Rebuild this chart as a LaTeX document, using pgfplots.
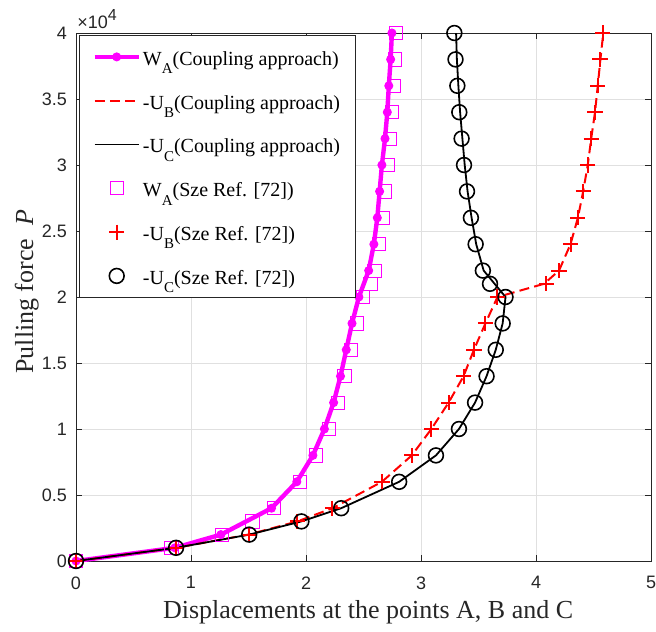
\documentclass[border=0pt]{standalone}
\usepackage{fontspec}
\setmainfont{Liberation Serif}
\setsansfont{Liberation Sans}
\usepackage{pgfplots}
\pgfplotsset{compat=1.18}
\usetikzlibrary{calc}
\definecolor{axgray}{rgb}{0.15,0.15,0.15}
\definecolor{gridgray}{rgb}{0.88,0.88,0.88}
\definecolor{mag}{rgb}{1,0,1}
\definecolor{myred}{rgb}{1,0,0}
\newcommand{\sub}[1]{\raisebox{-4.2pt}{\fontsize{7.5}{8}\selectfont #1}}
\begin{document}
\begin{tikzpicture}
\begin{axis}[
  scale only axis, width=287.5pt, height=264pt,
  xmin=0, xmax=5, ymin=0, ymax=40000,
  xtick={0,1,2,3,4,5},
  ytick={0,5000,10000,15000,20000,25000,30000,35000,40000},
  scaled y ticks=base 10:-4,
  ytick scale label code/.code={\sffamily\fontsize{9}{10}\selectfont\textcolor{axgray}{×10\raisebox{3.8pt}{\fontsize{8}{8}\selectfont 4}}},
  every y tick scale label/.style={at={(rel axis cs:0,1)}, anchor=base west, inner sep=0pt, xshift=1.5pt, yshift=2.5pt},
  /pgf/number format/assume math mode=true,
  yticklabel style={/pgf/number format/fixed, /pgf/number format/precision=1, xshift=-1pt},
  xticklabel style={yshift=-4.2pt},
  tick label style={font=\sffamily\fontsize{9}{10}\selectfont, text=axgray},
  axis line style={axgray, line width=0.5pt},
  tick style={axgray, line width=0.5pt},
  tick align=inside, major tick length=2.8pt,
  grid=major, major grid style={gridgray, line width=0.5pt},
  xlabel={Displacements at the points A, B and C},
  ylabel={Pulling force \ \textit{P}},
  label style={font=\fontsize{13}{15}\selectfont, text=axgray},
  xlabel style={at={(rel axis cs:0.508,-0.1098)}, anchor=base, inner sep=0pt},
  ylabel style={at={(rel axis cs:-0.0643,0.51)}, anchor=south, inner sep=0pt},
  legend image code/.code={\draw[mark repeat=2,mark phase=2,#1] plot coordinates {(0pt,0pt) (11pt,0pt) (22pt,0pt)};},
  legend cell align=left,
  legend style={at={(rel axis cs:0,1)}, anchor=north west, xshift=1.5pt, yshift=-1pt,
    draw=axgray, line width=0.5pt, fill=white, font=\fontsize{10}{12}\selectfont,
    inner xsep=6.5pt, inner ysep=5.1pt, row sep=10.7pt,
    nodes={inner xsep=1pt, inner ysep=0pt, text height=9.75pt, text depth=1.45pt, text=black}},
]
% W_A coupling
\addplot[mag, line width=2.2pt, mark=*, mark size=2pt, mark options={solid, fill=mag, line width=0.5pt}] table {
x y
0 0
0.86 1000
1.26 2000
1.70 4000
1.92 6000
2.06 8000
2.16 10000
2.24 12000
2.30 14000
2.35 16000
2.40 18000
2.46 20000
2.545 22000
2.59 24000
2.62 26000
2.64 28000
2.66 30000
2.687 32000
2.707 34000
2.72 36000
2.736 38000
2.747 40000
};
\addlegendentry{W\sub{A}(Coupling approach)}
% -U_B coupling
\addplot[myred, line width=1pt, dash pattern=on 5pt off 2.6pt] table {
x y
0 0
0.87 1000
1.50 2000
1.925 3000
2.23 4000
2.66 6000
2.92 8000
3.09 10000
3.24 12000
3.37 14000
3.46 16000
3.56 18000
3.665 20000
4.07 21000
4.20 22000
4.30 24000
4.364 26000
4.41 28000
4.45 30000
4.48 32000
4.513 34000
4.537 36000
4.56 38000
4.585 40000
};
\addlegendentry{-U\sub{B}(Coupling approach)}
% -U_C coupling
\addplot[black, line width=0.9pt] table {
x y
0 0
0.87 1000
1.506 2000
1.96 3000
2.306 4000
2.81 6000
3.13 8000
3.33 10000
3.47 12000
3.57 14000
3.65 16000
3.71 18000
3.735 20000
3.545 22000
3.48 24000
3.44 26000
3.405 28000
3.38 30000
3.36 32000
3.34 34000
3.325 36000
3.312 38000
3.305 40000
};
\addlegendentry{-U\sub{C}(Coupling approach)}
% W_A Sze
\addplot[only marks, mag, mark=square, mark size=3.3pt, mark options={line width=0.5pt}] table {
x y
0 0
0.83 1000
1.27 2000
1.535 3000
1.72 4000
1.95 6000
2.09 8000
2.20 10000
2.277 12000
2.335 14000
2.39 16000
2.44 18000
2.496 20000
2.56 21000
2.595 22000
2.638 24000
2.667 26000
2.69 28000
2.71 30000
2.727 32000
2.747 34000
2.765 36000
2.776 38000
2.785 40000
};
\addlegendentry{W\sub{A}(Sze Ref. [72])}
% -U_B Sze
\addplot[only marks, myred, mark=+, mark size=3.8pt, mark options={line width=1pt}] table {
x y
0 0
0.87 1000
1.50 2000
1.925 3000
2.23 4000
2.66 6000
2.92 8000
3.09 10000
3.24 12000
3.37 14000
3.46 16000
3.56 18000
3.665 20000
4.09 21000
4.20 22000
4.30 24000
4.364 26000
4.41 28000
4.45 30000
4.48 32000
4.513 34000
4.537 36000
4.557 38000
4.58 40000
};
\addlegendentry{-U\sub{B}(Sze Ref. [72])}
% -U_C Sze
\addplot[only marks, black, mark=o, mark size=3.7pt, mark options={line width=0.8pt}] table {
x y
0 0
0.87 1000
1.506 2000
1.96 3000
2.306 4000
2.81 6000
3.13 8000
3.33 10000
3.47 12000
3.57 14000
3.65 16000
3.71 18000
3.735 20000
3.60 21000
3.538 22000
3.475 24000
3.434 26000
3.40 28000
3.374 30000
3.353 32000
3.333 34000
3.316 36000
3.30 38000
3.29 40000
};
\addlegendentry{-U\sub{C}(Sze Ref. [72])}
\end{axis}
\pgfresetboundingbox
\path[use as bounding box] ($(current axis.south west)+(-38pt,-35pt)$) rectangle ($(current axis.north east)+(2.5pt,16.5pt)$);
\end{tikzpicture}
\end{document}
